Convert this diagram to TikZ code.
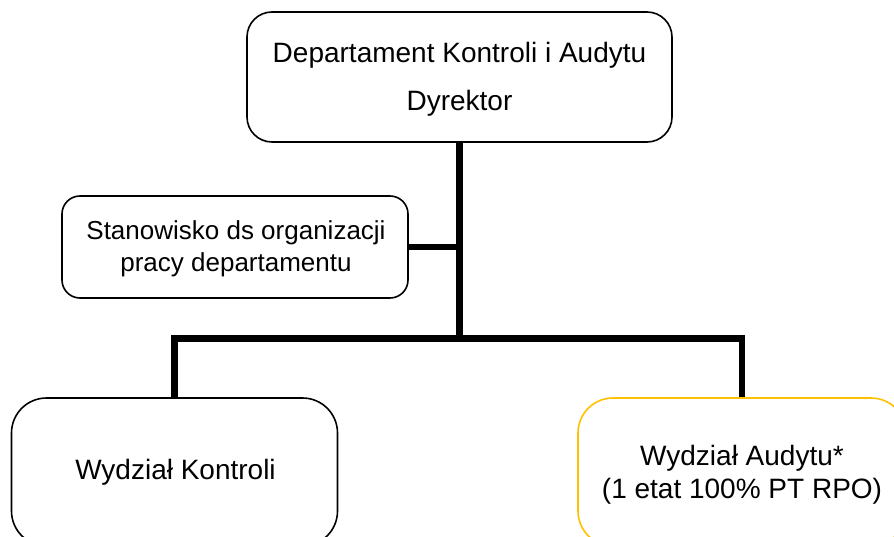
\documentclass[tikz,border=0pt]{standalone}
\usepackage{fontspec}
\setmainfont{Liberation Sans}
\definecolor{auditgold}{RGB}{255,192,0}
\begin{document}
\begin{tikzpicture}[x=1pt, y=-1pt,
  unitbox/.style={draw=black, line width=1.6pt, rectangle, inner sep=0pt},
  unittext/.style={inner sep=0pt, align=center},
  bigtext/.style={font=\fontsize{28}{33}\selectfont},
  conn/.style={draw=black, line width=6.5pt, line join=miter, line cap=butt}]
\useasboundingbox[fill=white] (0,0) rectangle (894,537);

% department head
\node[unitbox, rounded corners=25pt, minimum width=425pt, minimum height=130pt]
  (dir) at (459.5,77) {};
\node[unittext, font=\fontsize{28}{48}\selectfont] (dirtext) at (459.5,79.5)
  {Departament Kontroli i Audytu\\Dyrektor};

% staff position
\node[unitbox, rounded corners=18pt, minimum width=346pt, minimum height=102pt]
  (stan) at (235,247) {};
\node[unittext, font=\fontsize{26}{32}\selectfont] (stantext) at (236,248.5)
  {Stanowisko ds organizacji\\pracy departamentu};

% divisions
\node[unitbox, rounded corners=35pt, minimum width=326pt, minimum height=148pt]
  (kon) at (174.5,472) {};
\node[unittext, bigtext] (kontext) at (175.5,472.5) {Wydział Kontroli};

\node[unitbox, draw=auditgold, rounded corners=35pt, minimum width=328pt, minimum height=148pt]
  (aud) at (742,472) {};
\node[unittext, bigtext] (audtext) at (742,474.5) {Wydział Audytu*\\(1 etat 100\% PT RPO)};

% connectors
\coordinate (bus) at (459.5,338.5);
\draw[conn] (dir.south) -- (bus);
\draw[conn] (stan.east) -- (stan.east -| dir.south);
\draw[conn] (kon.north) |- (bus) -| (aud.north);
\end{tikzpicture}
\end{document}
